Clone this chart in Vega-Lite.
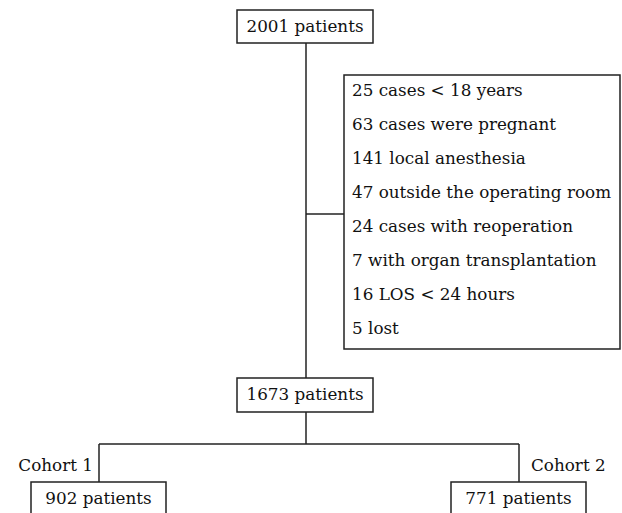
{
  "$schema": "https://vega.github.io/schema/vega-lite/v6.json",
  "width": 622,
  "height": 513,
  "padding": 0,
  "autosize": {"type": "fit", "contains": "padding"},
  "config": {"view": {"stroke": null}},
  "datasets": {
    "boxes": [
      {"name": "start", "x1": 237, "x2": 373, "y1": 10, "y2": 43},
      {"name": "excluded", "x1": 344, "x2": 620, "y1": 75, "y2": 349},
      {"name": "included", "x1": 237, "x2": 373, "y1": 378, "y2": 412},
      {"name": "cohort1", "x1": 31, "x2": 166, "y1": 482, "y2": 530},
      {"name": "cohort2", "x1": 451, "x2": 586, "y1": 482, "y2": 530}
    ],
    "links": [
      {"x1": 306, "x2": 306, "y1": 43, "y2": 378},
      {"x1": 306, "x2": 344, "y1": 214, "y2": 214},
      {"x1": 306, "x2": 306, "y1": 412, "y2": 444},
      {"x1": 99, "x2": 519, "y1": 444, "y2": 444},
      {"x1": 99, "x2": 99, "y1": 444, "y2": 482},
      {"x1": 519, "x2": 519, "y1": 444, "y2": 482}
    ],
    "centered": [
      {"text": "2001 patients", "x": 305, "y": 27},
      {"text": "1673 patients", "x": 305, "y": 395},
      {"text": "902 patients", "x": 98.5, "y": 499},
      {"text": "771 patients", "x": 518.5, "y": 499}
    ],
    "leftText": [
      {"text": "25 cases < 18 years", "x": 352, "y": 91},
      {"text": "63 cases were pregnant", "x": 352, "y": 125},
      {"text": "141 local anesthesia", "x": 352, "y": 159},
      {"text": "47 outside the operating room", "x": 352, "y": 193},
      {"text": "24 cases with reoperation", "x": 352, "y": 227},
      {"text": "7 with organ transplantation", "x": 352, "y": 261},
      {"text": "16 LOS < 24 hours", "x": 352, "y": 295},
      {"text": "5 lost", "x": 352, "y": 329},
      {"text": "Cohort 2", "x": 531, "y": 466}
    ],
    "rightText": [
      {"text": "Cohort 1", "x": 93, "y": 466}
    ]
  },
  "layer": [
    {
      "data": {"name": "boxes"},
      "mark": {"type": "rect", "fill": "white", "stroke": "#222", "strokeWidth": 1.5, "clip": true},
      "encoding": {
        "x": {"field": "x1", "type": "quantitative", "scale": {"domain": [0, 622], "nice": false, "zero": false}, "axis": null},
        "x2": {"field": "x2"},
        "y": {"field": "y1", "type": "quantitative", "scale": {"domain": [0, 513], "nice": false, "zero": false, "reverse": true}, "axis": null},
        "y2": {"field": "y2"}
      }
    },
    {
      "data": {"name": "links"},
      "mark": {"type": "rule", "stroke": "#222", "strokeWidth": 1.5},
      "encoding": {
        "x": {"field": "x1", "type": "quantitative"},
        "x2": {"field": "x2"},
        "y": {"field": "y1", "type": "quantitative"},
        "y2": {"field": "y2"}
      }
    },
    {
      "data": {"name": "centered"},
      "mark": {"type": "text", "font": "DejaVu Serif", "fontSize": 16.8, "align": "center", "baseline": "middle", "color": "#111"},
      "encoding": {
        "x": {"field": "x", "type": "quantitative"},
        "y": {"field": "y", "type": "quantitative"},
        "text": {"field": "text"}
      }
    },
    {
      "data": {"name": "leftText"},
      "mark": {"type": "text", "font": "DejaVu Serif", "fontSize": 16.8, "align": "left", "baseline": "middle", "color": "#111"},
      "encoding": {
        "x": {"field": "x", "type": "quantitative"},
        "y": {"field": "y", "type": "quantitative"},
        "text": {"field": "text"}
      }
    },
    {
      "data": {"name": "rightText"},
      "mark": {"type": "text", "font": "DejaVu Serif", "fontSize": 16.8, "align": "right", "baseline": "middle", "color": "#111"},
      "encoding": {
        "x": {"field": "x", "type": "quantitative"},
        "y": {"field": "y", "type": "quantitative"},
        "text": {"field": "text"}
      }
    }
  ]
}
